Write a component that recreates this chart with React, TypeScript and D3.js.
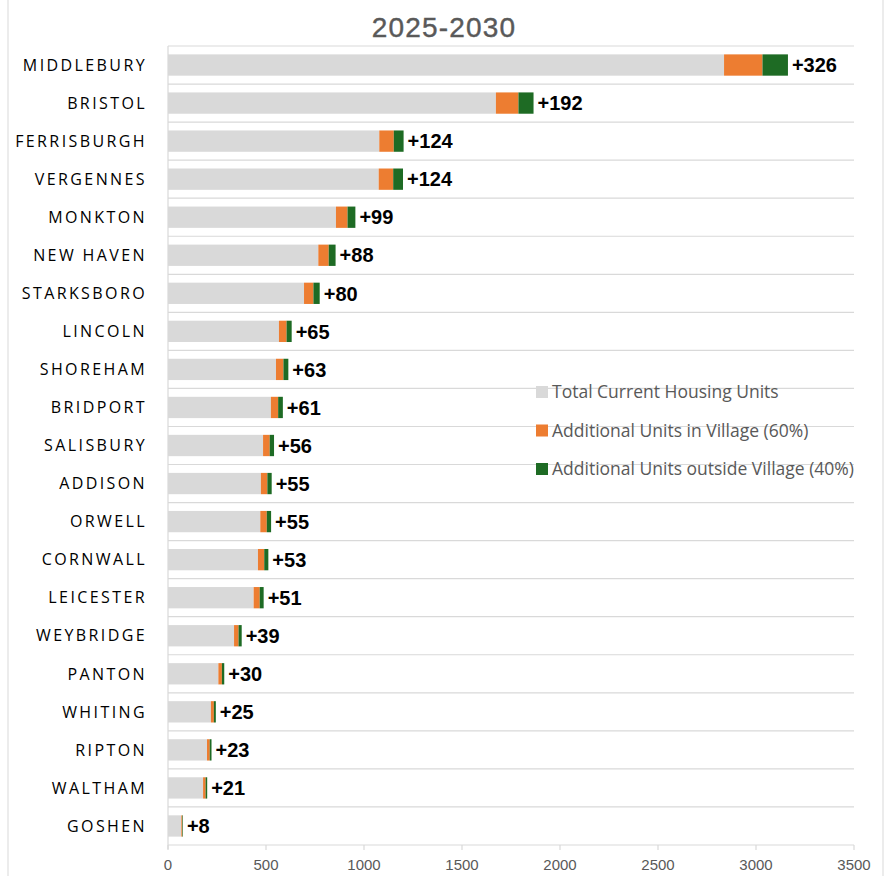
import * as d3 from "d3";

const towns = [
  "MIDDLEBURY", "BRISTOL", "FERRISBURGH", "VERGENNES", "MONKTON", "NEW HAVEN",
  "STARKSBORO", "LINCOLN", "SHOREHAM", "BRIDPORT", "SALISBURY", "ADDISON",
  "ORWELL", "CORNWALL", "LEICESTER", "WEYBRIDGE", "PANTON", "WHITING",
  "RIPTON", "WALTHAM", "GOSHEN",
];
const currentUnits = [
  2837, 1673, 1078, 1075, 857, 767, 694, 566, 551, 525, 485, 474, 471, 459,
  437, 337, 257, 219, 199, 179, 68,
];
const villageUnits = [
  196, 115, 74, 74, 59, 53, 48, 39, 38, 37, 34, 33, 33, 32, 31, 23, 18, 15, 14, 13, 5,
];
const outsideUnits = [
  130, 77, 50, 50, 40, 35, 32, 26, 25, 24, 22, 22, 22, 21, 20, 16, 12, 10, 9, 8, 3,
];
const xTicks = [0, 500, 1000, 1500, 2000, 2500, 3000, 3500];
const seriesNames = [
  "Total Current Housing Units",
  "Additional Units in Village (60%)",
  "Additional Units outside Village (40%)",
];
const colors = ["#D9D9D9", "#ED7D31", "#1E6B24"];

const W = 890;
const H = 876;
const left = 168;
const right = 854;
const top = 46;
const bottom = 845;

export default function App() {
  const x = d3.scaleLinear().domain([0, 3500]).range([left, right]);
  const y = d3
    .scaleBand<string>()
    .domain(towns)
    .range([top, bottom])
    .paddingInner(0.44)
    .paddingOuter(0.22);

  const rows = towns.map((t, i) => ({
    town: t,
    current: currentUnits[i],
    village: villageUnits[i],
    outside: outsideUnits[i],
  }));
  const stacked = d3
    .stack<any>()
    .keys(["current", "village", "outside"])(rows);

  const step = y.step();
  const grid = d3.range(towns.length + 1).map((i) => top + i * step);

  return (
    <svg
      width={W}
      height={H}
      style={{ position: "absolute", left: 0, top: 0, background: "#fff" }}
    >
      <line x1={8} x2={8} y1={0} y2={H} stroke="#D9D9D9" />
      <line x1={883} x2={883} y1={0} y2={H} stroke="#D9D9D9" />
      <text
        x={444}
        y={37}
        textAnchor="middle"
        fill="#595959"
        stroke="#595959"
        strokeWidth={0.4}
        fontFamily="'Liberation Sans', Arial, sans-serif"
        fontSize={28}
        letterSpacing={1.2}
      >
        2025-2030
      </text>

      {grid.slice(0, -1).map((g, i) => (
        <line key={i} x1={left} x2={right} y1={g} y2={g} stroke="#D9D9D9" strokeWidth={1.2} />
      ))}

      {stacked.map((s, si) => (
        <g key={si} fill={colors[si]}>
          {s.map((d, i) => (
            <rect
              key={i}
              x={x(d[0])}
              width={x(d[1]) - x(d[0])}
              y={y(towns[i])}
              height={y.bandwidth()}
            />
          ))}
        </g>
      ))}

      {rows.map((r) => (
        <text
          key={r.town}
          x={x(r.current + r.village + r.outside) + 4}
          y={(y(r.town) ?? 0) + y.bandwidth() / 2}
          dy="0.36em"
          fontFamily="'Liberation Sans', Arial, sans-serif"
          fontWeight="bold"
          fontSize={20}
          fill="#000"
        >
          {"+" + (r.village + r.outside)}
        </text>
      ))}

      {towns.map((t) => (
        <text
          key={t}
          x={147}
          y={(y(t) ?? 0) + y.bandwidth() / 2}
          dy="0.36em"
          textAnchor="end"
          fontFamily="'Open Sans', 'Noto Sans', sans-serif"
          fontSize={16}
          letterSpacing={2.4}
          fill="#000"
        >
          {t}
        </text>
      ))}

      <line x1={left} x2={left} y1={top} y2={bottom + 4} stroke="#D9D9D9" strokeWidth={1.2} />
      <line x1={left} x2={right} y1={bottom} y2={bottom} stroke="#D9D9D9" strokeWidth={1.2} />
      {xTicks.map((t) => (
        <g key={t}>
          <line x1={x(t)} x2={x(t)} y1={bottom} y2={bottom + 5} stroke="#D9D9D9" strokeWidth={1.2} />
          <text
            x={x(t)}
            y={870}
            textAnchor="middle"
            fontFamily="'Liberation Sans', Arial, sans-serif"
            fontSize={15}
            fill="#595959"
          >
            {t}
          </text>
        </g>
      ))}

      {seriesNames.map((n, i) => (
        <g key={n} transform={`translate(536, ${392 + i * 38.5})`}>
          <rect x={0} y={-6} width={12} height={12} fill={colors[i]} />
          <text
            x={16}
            y={0}
            dy="0.36em"
            fontFamily="'Open Sans', 'Noto Sans', sans-serif"
            fontSize={17.5}
            fill="#595959"
          >
            {n}
          </text>
        </g>
      ))}
    </svg>
  );
}
